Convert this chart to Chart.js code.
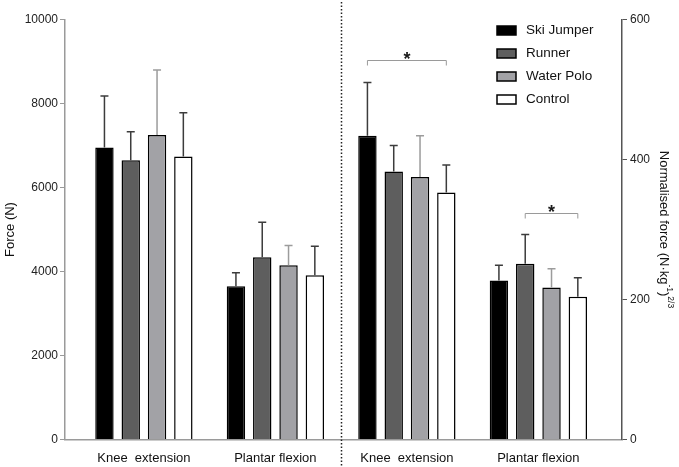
<!DOCTYPE html>
<html>
<head>
<meta charset="utf-8">
<script src="https://cdn.jsdelivr.net/npm/chart.js@4"></script>
<style>
	html, body { margin: 0; padding: 0; background: #fff; }
	#wrap { width: 679px; height: 467px; }
</style>
</head>
<body>
<div id="wrap"><canvas id="chart" width="679" height="467"></canvas></div>
<script>
const categories = ['Knee  extension', 'Plantar flexion', 'Knee  extension', 'Plantar flexion'];
const groups = ['Ski Jumper', 'Runner', 'Water Polo', 'Control'];
const forceTicks = [0, 2000, 4000, 6000, 8000, 10000];
const normTicks = [0, 200, 400, 600];

// absolute force (N): mean and SD per group
const forceKnee = [6950, 6650, 7250, 6740];
const forceKneeSD = [1230, 680, 1550, 1040];
const forcePlantar = [3650, 4340, 4150, 3910];
const forcePlantarSD = [320, 830, 470, 690];

// normalised force: mean and SD per group
const normKnee = [434, 383, 375, 353];
const normKneeSD = [76, 37, 59, 39];
const normPlantar = [227, 251, 217, 204];
const normPlantarSD = [22, 42, 27, 27];

// significance brackets (category, first group, last group, level in normalised units)
const sigCats = [2, 3];
const sigFrom = [0, 1];
const sigTo = [3, 3];
const sigLevel = [542, 323];

(function(){
	const FONT = '"Liberation Sans", Arial, sans-serif';
	const fills = ['#000000', '#5e5e5e', '#a2a2a6', '#ffffff'];
	const errColors = ['#3c3c3c', '#3c3c3c', '#9c9c9c', '#3c3c3c'];

	const datasets = [];
	groups.forEach((g, i) => {
		datasets.push({ label: g, group: i, yAxisID: 'yForce', backgroundColor: fills[i],
			data: [{ x: 0, y: forceKnee[i] }, { x: 1, y: forcePlantar[i] }],
			sd: [forceKneeSD[i], forcePlantarSD[i]] });
	});
	groups.forEach((g, i) => {
		datasets.push({ label: g, group: i, yAxisID: 'yNorm', backgroundColor: fills[i],
			data: [{ x: 2, y: normKnee[i] }, { x: 3, y: normPlantar[i] }],
			sd: [normKneeSD[i], normPlantarSD[i]] });
	});

	const overlay = {
		id: 'overlay',
		afterDatasetsDraw(chart){
			const ctx = chart.ctx;
			// error bars (upper only)
			chart.data.datasets.forEach((ds, di) => {
				const meta = chart.getDatasetMeta(di);
				const ys = chart.scales[ds.yAxisID];
				meta.data.forEach((bar, j) => {
					const top = ys.getPixelForValue(ds.data[j].y + ds.sd[j]);
					ctx.save();
					ctx.strokeStyle = errColors[ds.group];
					ctx.lineWidth = 1.5;
					ctx.beginPath();
					ctx.moveTo(bar.x, bar.y); ctx.lineTo(bar.x, top);
					ctx.moveTo(bar.x - 4, top); ctx.lineTo(bar.x + 4, top);
					ctx.stroke();
					ctx.restore();
				});
			});
			// significance brackets
			const yn = chart.scales.yNorm;
			sigCats.forEach((c, k) => {
				const a = chart.getDatasetMeta(4 + sigFrom[k]).data[c - 2];
				const b = chart.getDatasetMeta(4 + sigTo[k]).data[c - 2];
				const y = Math.round(yn.getPixelForValue(sigLevel[k])) + 0.5;
				ctx.save();
				ctx.strokeStyle = '#9a9a9a';
				ctx.lineWidth = 1;
				ctx.beginPath();
				ctx.moveTo(a.x, y + 5); ctx.lineTo(a.x, y); ctx.lineTo(b.x, y); ctx.lineTo(b.x, y + 5);
				ctx.stroke();
				ctx.fillStyle = '#1a1a1a';
				ctx.font = 'bold 18px ' + FONT;
				ctx.textAlign = 'center';
				ctx.textBaseline = 'alphabetic';
				ctx.fillText('*', (a.x + b.x) / 2, y + 4);
				ctx.restore();
			});
		},
		afterDraw(chart){
			const ctx = chart.ctx;
			const area = chart.chartArea;
			const xs = chart.scales.x;
			// dotted divider
			const xd = Math.round(xs.getPixelForValue(1.5)) + 0.5;
			ctx.save();
			ctx.strokeStyle = '#222';
			ctx.lineWidth = 1.5;
			ctx.setLineDash([1.5, 2]);
			ctx.beginPath(); ctx.moveTo(xd, 2); ctx.lineTo(xd, chart.height); ctx.stroke();
			ctx.restore();

			// legend
			const lx = area.right - 125, ly = area.top + 11;
			groups.forEach((g, i) => {
				const cy = ly + i * 23;
				ctx.save();
				ctx.fillStyle = fills[i];
				ctx.strokeStyle = '#000';
				ctx.lineWidth = 1.5;
				ctx.fillRect(lx, cy - 4.5, 19, 9);
				ctx.strokeRect(lx, cy - 4.5, 19, 9);
				ctx.fillStyle = '#111';
				ctx.font = '13.5px ' + FONT;
				ctx.textBaseline = 'middle';
				ctx.fillText(g, lx + 29, cy);
				ctx.restore();
			});

			// right axis title with superscripts
			const parts = [['Normalised force (N\u00b7kg', 0, 13], ['-1', -5, 8.5], [')', 0, 13], ['2/3', -6, 8.5]];
			ctx.save();
			let w = 0;
			parts.forEach(p => { ctx.font = p[2] + 'px ' + FONT; w += ctx.measureText(p[0]).width; });
			ctx.translate(area.right + 42, (area.top + area.bottom) / 2);
			ctx.rotate(Math.PI / 2);
			ctx.fillStyle = '#111';
			ctx.textBaseline = 'middle';
			let x = -w / 2;
			parts.forEach(p => {
				ctx.font = p[2] + 'px ' + FONT;
				ctx.fillText(p[0], x, p[1]);
				x += ctx.measureText(p[0]).width;
			});
			ctx.restore();
		}
	};

	new Chart(document.getElementById('chart'), {
		type: 'bar',
		data: { datasets },
		options: {
			responsive: false,
			animation: false,
			layout: { padding: { top: 19.5, left: 0, right: 0, bottom: 0 } },
			datasets: { bar: { skipNull: true, categoryPercentage: 0.8, barPercentage: 0.7, borderColor: '#000', borderWidth: 1.5 } },
			plugins: { legend: { display: false }, tooltip: { enabled: false } },
			scales: {
				x: {
					type: 'linear', min: -0.6, max: 3.636, offset: false,
					afterBuildTicks: s => { s.ticks = categories.map((_, i) => ({ value: i })); },
					afterFit: s => { s.height = 27.5; },
					grid: { display: false, drawTicks: false, offset: false },
					border: { color: '#9a9a9a', width: 1.5 },
					ticks: { callback: v => categories[v], autoSkip: false, maxRotation: 0, padding: 11, color: '#111', font: { family: FONT, size: 13 } }
				},
				yForce: {
					position: 'left', min: 0, max: 10000,
					afterBuildTicks: s => { s.ticks = forceTicks.map(v => ({ value: v })); },
					afterFit: s => { s.width = 65; },
					grid: { drawOnChartArea: false, drawTicks: true, tickLength: 5, color: '#9a9a9a' },
					border: { color: '#9a9a9a', width: 1.5 },
					ticks: { callback: v => String(v), padding: 2, color: '#222', font: { family: FONT, size: 12 } },
					title: { display: true, text: 'Force (N)', color: '#111', padding: { top: 3, bottom: 0 }, font: { family: FONT, size: 13 } }
				},
				yNorm: {
					position: 'right', min: 0, max: 600,
					afterBuildTicks: s => { s.ticks = normTicks.map(v => ({ value: v })); },
					afterFit: s => { s.width = 57; },
					grid: { drawOnChartArea: false, drawTicks: true, tickLength: 5, color: '#555' },
					border: { color: '#555', width: 1.5 },
					ticks: { callback: v => String(v), padding: 3, color: '#222', font: { family: FONT, size: 12 } }
				}
			}
		},
		plugins: [overlay]
	});
})();
</script>
</body>
</html>
